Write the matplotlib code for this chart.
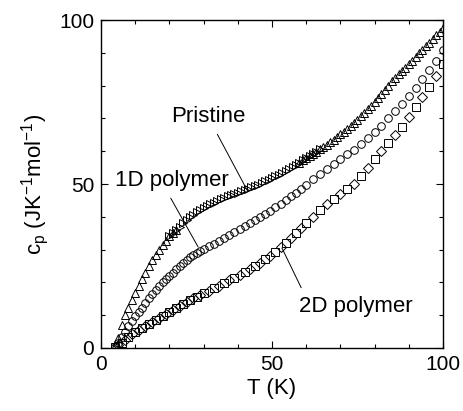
import numpy as np
import matplotlib
matplotlib.use('Agg')
import matplotlib.pyplot as plt
from matplotlib.ticker import MultipleLocator

plt.rcParams['font.family'] = ['Liberation Sans', 'DejaVu Sans']
plt.rcParams['mathtext.default'] = 'regular'

# Pristine, low T (up triangles)
pri_lo_T = [4, 5, 6, 7, 8, 9, 10, 11, 12, 13, 14, 15, 16, 17, 18, 19, 20, 21, 22]
pri_lo_cp = [0.5, 3, 7, 10, 12.3, 14.5, 16.8, 19, 21, 23, 25, 26.8, 28.5, 30, 31.3,
             32.7, 34, 35, 36]
# Pristine, mid T (right triangles)
pri_mid_T = list(range(20, 65))
pri_mid_cp = [34, 35, 36, 37, 38, 39, 39.8, 40.6, 41.4, 42, 42.7, 43.2, 43.8, 44.3,
              44.8, 45.3, 45.7, 46.2, 46.6, 47, 47.4, 47.8, 48.2, 48.6, 49, 49.4,
              49.8, 50.3, 50.8, 51.3, 51.8, 52.3, 52.8, 53.4, 54, 54.6, 55.2, 55.8,
              56.5, 57.2, 57.8, 58.5, 59.2, 59.9, 60.6]
# Pristine, high T (up triangles)
pri_hi_T = list(range(58, 101))
pri_hi_cp = [56.5, 57.2, 57.8, 58.5, 59.2, 59.9, 60.6, 61.3, 62, 62.7, 63.5, 64.3,
             65.1, 66, 66.8, 67.7, 68.6, 69.6, 70.6, 71.7, 72.8, 73.9, 75, 76.2,
             77.4, 78.7, 80, 81.3, 82.4, 83.5, 84.5, 85.5, 86.5, 87.6, 88.7, 89.8,
             90.9, 92, 93.1, 94.2, 95.3, 96.4, 97.5]

# 1D and 2D polymer share the temperature grid
poly_T = [4, 5, 6, 7, 8, 9, 10, 11, 12, 13, 14, 15, 16, 17, 18, 19, 20, 21, 22, 23,
          24, 25, 26, 27, 28, 29, 30, 31.5, 33, 34.5, 36, 37.5, 39, 40.5, 42, 43.5,
          45, 46.5, 48, 49.5, 51, 52.5, 54, 55.5, 57, 58.5, 60, 62, 64, 66, 68, 70,
          72, 74, 76, 78, 80, 82, 84, 86, 88, 90, 92, 94, 96, 98, 100]
p1d_cp = [0.3, 1.5, 3.3, 5, 6.8, 8.3, 9.8, 11, 12.3, 13.8, 15.3, 16.5, 17.8, 19, 20,
          21, 22, 23, 24, 25, 26, 26.8, 27.6, 28.3, 29, 29.7, 30.3, 31, 31.8, 32.6,
          33.5, 34.4, 35.3, 36.2, 37.1, 38, 39, 39.9, 40.8, 41.8, 42.9, 44, 45.2,
          46.3, 47.4, 48.6, 49.8, 51.5, 53, 54.6, 56, 57.5, 59, 60.5, 62.3, 64, 65.8,
          67.8, 70, 72.2, 74.5, 76.8, 79.3, 82, 84.8, 87.6, 90.8]
p2d_cp = [0.2, 0.8, 1.6, 2.5, 3.4, 4.2, 4.9, 5.5, 6.1, 6.7, 7.3, 7.9, 8.5, 9.1, 9.8,
          10.4, 11, 11.6, 12.2, 12.8, 13.4, 14, 14.6, 15.2, 15.7, 16.2, 16.8, 17.5,
          18.2, 19, 19.8, 20.6, 21.4, 22.3, 23.2, 24, 25, 26, 27, 28.2, 29.4, 30.7,
          32, 33.4, 35, 36.5, 38, 40, 42, 44, 45.5, 47, 48.5, 50, 52.5, 55, 57.5, 60,
          62.5, 65, 67.5, 70.5, 73.5, 76.5, 79.5, 83, 86.5]

fig = plt.figure(figsize=(4.64, 4.11), dpi=100)
ax = fig.add_axes([0.2177, 0.1533, 0.737, 0.798])

kw = dict(linestyle='none', markerfacecolor='none', markeredgecolor='black',
          markeredgewidth=0.7)
ax.plot(pri_lo_T, pri_lo_cp, marker='^', markersize=6, **kw)
ax.plot(pri_mid_T, pri_mid_cp, marker='>', markersize=6, **kw)
ax.plot(pri_hi_T, pri_hi_cp, marker='^', markersize=6, **kw)
ax.plot(poly_T, p1d_cp, marker='o', markersize=5.5, **kw)
ax.plot(poly_T[::2], p2d_cp[::2], marker='s', markersize=5.5, **kw)
ax.plot(poly_T[1::2], p2d_cp[1::2], marker='D', markersize=5.5, **kw)

ax.set_xlim(0, 100)
ax.set_ylim(0, 100)
ax.xaxis.set_major_locator(MultipleLocator(50))
ax.yaxis.set_major_locator(MultipleLocator(50))
ax.xaxis.set_minor_locator(MultipleLocator(10))
ax.yaxis.set_minor_locator(MultipleLocator(10))
ax.tick_params(which='both', direction='in', top=True, right=True, labelsize=15,
               width=0.8)
ax.tick_params(which='major', length=5, pad=5)
ax.tick_params(which='minor', length=3)
for s in ax.spines.values():
    s.set_linewidth(1.0)

ax.set_xlabel('T (K)', fontsize=16, labelpad=3)
ax.set_ylabel(r'c$_{p}$ (JK$^{-1}$mol$^{-1}$)', fontsize=16, labelpad=6)

line = dict(arrowstyle='-', lw=0.7, color='black', shrinkB=0)
ax.annotate('Pristine', xy=(42.7, 48.2), xytext=(31.3, 70.7), fontsize=16,
            ha='center', va='center',
            arrowprops=dict(relpos=(0.57, 0.0), shrinkA=4, **line))
ax.annotate('1D polymer', xy=(28.4, 30.8), xytext=(20.8, 51.2), fontsize=16,
            ha='center', va='center',
            arrowprops=dict(relpos=(0.45, 0.0), shrinkA=4, **line))
ax.annotate('2D polymer', xy=(52.9, 30.5), xytext=(74.6, 12.8), fontsize=16,
            ha='center', va='center',
            arrowprops=dict(relpos=(0.05, 1.0), shrinkA=4, **line))

plt.savefig('out.png', dpi=100)
